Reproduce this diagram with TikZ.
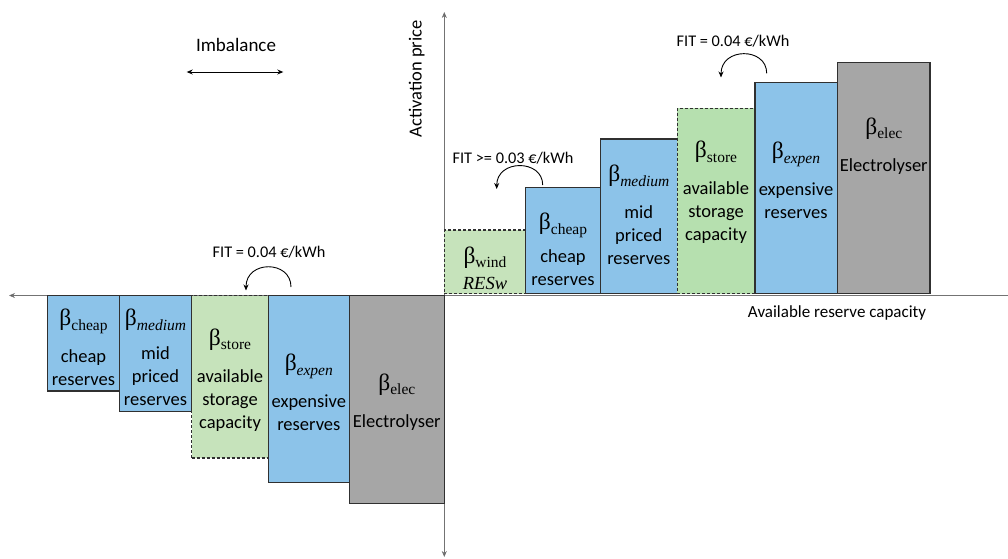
\documentclass[tikz,border=0pt]{standalone}
\usepackage{fontspec}
\setmainfont{Carlito}
\newfontfamily\camfont{Liberation Serif}
\usetikzlibrary{arrows.meta}
\definecolor{resblue}{HTML}{8CC3E9}
\definecolor{resgreen}{HTML}{C6E3BB}
\definecolor{resgreenb}{HTML}{B6E0AF}
\definecolor{resgray}{HTML}{A6A6A6}
\definecolor{edgec}{HTML}{303030}
\newcommand{\bsym}[1]{{\camfont\fontsize{23.5}{23}\selectfont β\raisebox{-0.4ex}{\fontsize{15.5}{15}\selectfont #1}}}
\tikzset{
  box/.style={draw=edgec, line width=1.1pt, inner sep=0pt, outer sep=0pt},
  bluebox/.style={box, fill=resblue},
  graybox/.style={box, fill=resgray},
  greenbox/.style={box, dashed, dash pattern=on 3pt off 2pt, fill=#1},
  boxtext/.style={font=\fontsize{18.5}{23}\selectfont, align=center, inner sep=0pt},
  fittext/.style={font=\fontsize{16.3}{18}\selectfont, inner sep=0pt},
  axis/.style={draw=black!55, line width=0.8pt, {Stealth[length=6pt,width=5pt,fill=black]}-{Stealth[length=6pt,width=5pt,fill=black]}},
  curvearrow/.style={draw=black, line width=0.9pt, -{Stealth[length=6pt,width=5pt]}},
  dblarrow/.style={draw=black, line width=0.9pt, {Stealth[length=6pt,width=5pt]}-{Stealth[length=6pt,width=5pt]}},
}
\begin{document}
\begin{tikzpicture}[x=1pt,y=-1pt]
\useasboundingbox (0,0) rectangle (1008,558);
% axes
\coordinate (hL) at (9,295.5);
\coordinate (hR) at (1008,295.5);
\coordinate (vT) at (444.3,12);
\coordinate (vB) at (444.3,557);
\draw[draw=black!55, line width=0.8pt, -{Stealth[length=6pt,width=5pt,fill=black]}] (hR) -- (hL);
\draw[axis] (vB) -- (vT);
% left boxes
\node[bluebox, anchor=north west, minimum width=71.6pt, minimum height=95.5pt] (lcheap) at (47.7,295.5) {};
\node[bluebox, anchor=north west, minimum width=72.4pt, minimum height=116.2pt] (lmed) at (119.3,295.5) {};
\node[greenbox=resgreen, anchor=north west, minimum width=76.6pt, minimum height=162.5pt] (lstore) at (191.7,295.5) {};
\node[bluebox, anchor=north west, minimum width=81pt, minimum height=186.8pt] (lexpen) at (268.3,295.5) {};
\node[graybox, anchor=north west, minimum width=95pt, minimum height=207.8pt] (lelec) at (349.3,295.5) {};
% right boxes
\node[greenbox=resgreen, anchor=south west, minimum width=81.4pt, minimum height=63.5pt] (rwind) at (444.3,293.5) {};
\node[bluebox, anchor=south west, minimum width=74.6pt, minimum height=105.8pt] (rcheap) at (525.7,293.5) {};
\node[bluebox, anchor=south west, minimum width=77pt, minimum height=154.5pt] (rmed) at (600.3,293.5) {};
\node[greenbox=resgreenb, anchor=south west, minimum width=77.7pt, minimum height=185.2pt] (rstore) at (677.3,293.5) {};
\node[bluebox, anchor=south west, minimum width=82.7pt, minimum height=210.8pt] (rexpen) at (755,293.5) {};
\node[graybox, anchor=south west, minimum width=92.3pt, minimum height=231.2pt] (relec) at (837.7,293.5) {};
% left texts
\node[boxtext] (tlcheap) at (83.5,347.5) {\bsym{cheap}\\[14pt]cheap\\reserves};
\node[boxtext] (tlmed) at (155.5,357.5) {\bsym{\itshape medium}\\[11pt]mid\\priced\\reserves};
\node[boxtext] (tlstore) at (230,380) {\bsym{store}\\[14pt]available\\storage\\capacity};
\node[boxtext] (tlexpen) at (308.8,392.5) {\bsym{\itshape expen}\\[14pt]expensive\\reserves};
\node[boxtext] (tlelec) at (396.8,402) {\bsym{elec}\\[14pt]Electrolyser};
% right texts
\node[boxtext] (trwind) at (485,268) {\bsym{wind}\\[3pt]{\camfont\itshape RESw}};
\node[boxtext] (trcheap) at (563,249.5) {\bsym{cheap}\\[10pt]cheap\\reserves};
\node[boxtext] (trmed) at (638.8,215) {\bsym{\itshape medium}\\[14pt]mid\\priced\\reserves};
\node[boxtext] (trstore) at (716,192.5) {\bsym{store}\\[14pt]available\\storage\\capacity};
\node[boxtext] (trexpen) at (796,180.5) {\bsym{\itshape expen}\\[14pt]expensive\\reserves};
\node[boxtext] (trelec) at (883.8,146) {\bsym{elec}\\[14pt]Electrolyser};
% labels
\node[font=\fontsize{19}{22}\selectfont, inner sep=0pt] (imb) at (236,45) {Imbalance};
\coordinate (imbL) at (186.7,72);
\coordinate (imbR) at (283.3,72);
\draw[dblarrow] (imbL) -- (imbR);
\node[font=\fontsize{18.5}{22}\selectfont, inner sep=0pt, rotate=90] (actp) at (416.7,79) {Activation price};
\node[font=\fontsize{17}{22}\selectfont, inner sep=0pt] (avail) at (837,313) {Available reserve capacity};
% FIT labels and curved arrows
\node[fittext] (fitl) at (269,252) {FIT = 0.04 €/kWh};
\coordinate (fitlA) at (291,287);
\coordinate (fitlB) at (246,290.5);
\draw[curvearrow] (fitlA) .. controls (291,260) and (246,260) .. (fitlB);
\node[fittext] (fitm) at (513,158.5) {FIT >= 0.03 €/kWh};
\coordinate (fitmA) at (542.7,185);
\coordinate (fitmB) at (496.7,189);
\draw[curvearrow] (fitmA) .. controls (542.7,159) and (496.7,159) .. (fitmB);
\node[fittext] (fitr) at (733,41) {FIT = 0.04 €/kWh};
\coordinate (fitrA) at (766.7,73.3);
\coordinate (fitrB) at (721,77.5);
\draw[curvearrow] (fitrA) .. controls (766.7,47) and (721,47) .. (fitrB);
\end{tikzpicture}
\end{document}
